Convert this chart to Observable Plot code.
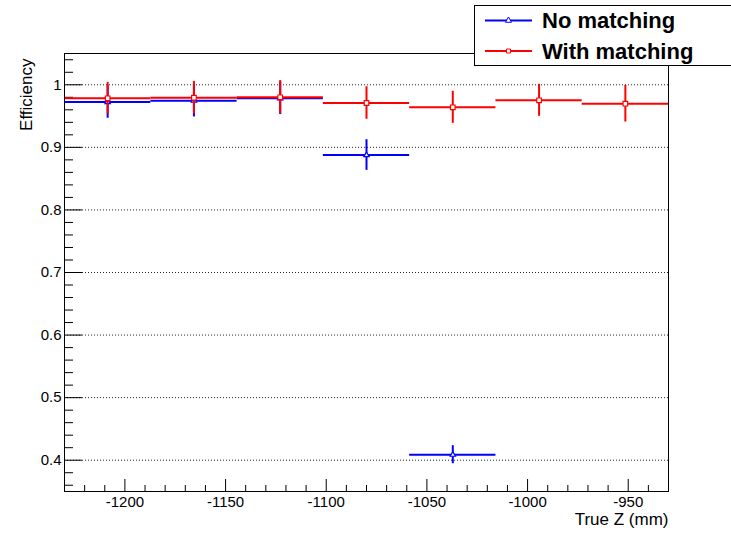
<!DOCTYPE html>
<html><head><meta charset="utf-8">
<script src="https://cdn.jsdelivr.net/npm/d3@7"></script>
<script src="https://cdn.jsdelivr.net/npm/@observablehq/plot@0.6"></script>
<style>body{margin:0;background:#fff} svg{display:block}</style>
</head><body><div id="chart"></div>
<script>
// Bin edges (True Z, mm)
const binLow  = [-1230, -1187.14, -1144.29, -1101.43, -1058.57, -1015.71, -972.86];
const binHigh = [-1187.14, -1144.29, -1101.43, -1058.57, -1015.71, -972.86, -930];
// Efficiency series
const noMatch      = [0.9725, 0.9746, 0.9784, 0.8877, 0.4088];
const noMatchErr   = [0.026, 0.026, 0.026, 0.0245, 0.0144];
const withMatch    = [0.9784, 0.9794, 0.9800, 0.9709, 0.9640, 0.9752, 0.9698];
const withMatchErr = [0.0254, 0.026, 0.0267, 0.026, 0.0256, 0.0256, 0.0293];
// Ticks
const xMajor = [-1200, -1150, -1100, -1050, -1000, -950];
const xMinor = [-1220,-1210,-1190,-1180,-1170,-1160,-1140,-1130,-1120,-1110,-1090,-1080,-1070,-1060,-1040,-1030,-1020,-1010,-990,-980,-970,-960,-940];
const yMajor = [0.4, 0.5, 0.6, 0.7, 0.8, 0.9, 1.0];
const yMinor = [0.36,0.38,0.42,0.44,0.46,0.48,0.52,0.54,0.56,0.58,0.62,0.64,0.66,0.68,0.72,0.74,0.76,0.78,0.82,0.84,0.86,0.88,0.92,0.94,0.96,0.98,1.02,1.04];
const seriesNames = ["No matching", "With matching"];
const colors = ["#0000ff", "#ff0000"];

const rows = (vals, errs) => vals.map((v, i) => ({
  x1: binLow[i], x2: binHigh[i], xc: (binLow[i] + binHigh[i]) / 2,
  y: v, lo: v - errs[i], hi: v + errs[i]
}));
const blue = rows(noMatch, noMatchErr);
const red = rows(withMatch, withMatchErr);

const W = 731, H = 534, mL = 64, mR = 63, mT = 53, mB = 43;
const innerW = W - mL - mR, innerH = H - mT - mB;
const font = "'Liberation Sans', Arial, Helvetica, sans-serif";

function seriesMarks(data, color, symbol, r) {
  return [
    Plot.ruleY(data, {y: "y", x1: "x1", x2: "x2", stroke: color, strokeWidth: 2}),
    Plot.ruleX(data, {x: "xc", y1: "lo", y2: "hi", stroke: color, strokeWidth: 2}),
    Plot.dot(data, {x: "xc", y: "y", symbol, r, fill: "white", stroke: color, strokeWidth: 1.2})
  ];
}

function legend() {
  return () => {
    const g = d3.create("svg:g").attr("font-family", font);
    g.append("rect").attr("x", 474.5).attr("y", 5.5).attr("width", 260).attr("height", 60)
      .attr("fill", "white").attr("stroke", "black").attr("stroke-width", 1);
    const rowsY = [20.5, 51];
    const syms = [d3.symbolTriangle, d3.symbolSquare];
    seriesNames.forEach((name, i) => {
      const y = rowsY[i];
      g.append("line").attr("x1", 485).attr("x2", 532).attr("y1", y).attr("y2", y)
        .attr("stroke", colors[i]).attr("stroke-width", 2);
      g.append("path").attr("d", d3.symbol(syms[i], 16)())
        .attr("transform", `translate(508.5,${y})`).attr("fill", "white").attr("stroke", colors[i]).attr("stroke-width", 1);
      g.append("text").attr("x", 542).attr("y", y + 7.5).attr("font-size", 22).attr("font-weight", "bold")
        .attr("text-anchor", "start").attr("fill", "black").text(name);
    });
    return g.node();
  };
}

const chart = Plot.plot({
  width: W, height: H,
  marginLeft: mL, marginRight: mR, marginTop: mT, marginBottom: mB,
  style: {fontFamily: font, background: "white", color: "black"},
  x: {domain: [-1230, -930]},
  y: {domain: [0.35, 1.05]},
  marks: [
    Plot.ruleY(yMajor, {y: d => d, stroke: "#000", strokeDasharray: "1,2", strokeOpacity: 0.85}),
    Plot.tickX(xMajor, {x: d => d, insetTop: innerH - 12, stroke: "#000"}),
    Plot.tickX(xMinor, {x: d => d, insetTop: innerH - 6, stroke: "#000"}),
    Plot.tickY(yMajor, {y: d => d, insetRight: innerW - 18, stroke: "#000"}),
    Plot.tickY(yMinor, {y: d => d, insetRight: innerW - 9, stroke: "#000"}),
    ...seriesMarks(blue, colors[0], "triangle", 2),
    ...seriesMarks(red, colors[1], "square", 2.6),
    Plot.frame({stroke: "#000"}),
    Plot.axisX(xMajor, {tickSize: 0, tickPadding: 5, fontSize: 15, label: null, tickFormat: d => String(d)}),
    Plot.axisY(yMajor, {tickSize: 0, tickPadding: 3, fontSize: 15, label: null, tickFormat: d => String(+d.toFixed(1))}),
    Plot.text(["Efficiency"], {frameAnchor: "top-left", text: d => d, rotate: -90, textAnchor: "end", dx: -45, dy: 5, fontSize: 17, fill: "black"}),
    Plot.text(["True Z (mm)"], {frameAnchor: "bottom-right", text: d => d, textAnchor: "end", dy: 33, fontSize: 17, fill: "black"}),
    legend()
  ]
});
document.getElementById("chart").append(chart);
</script>
</body></html>
